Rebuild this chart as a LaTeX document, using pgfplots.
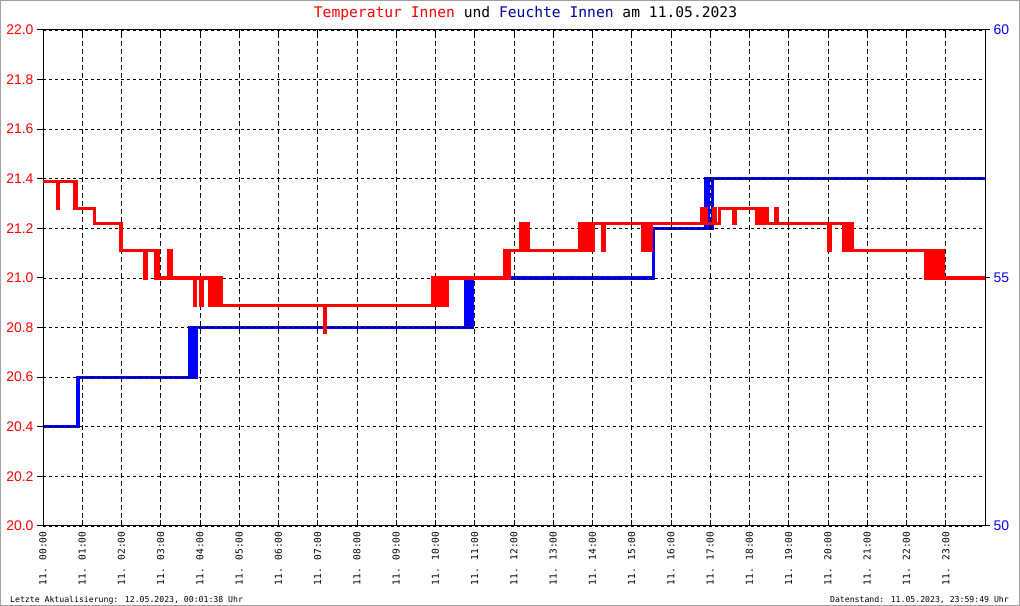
\documentclass[border=0pt]{standalone}
\usepackage{pgfplots}
\pgfplotsset{compat=1.18}
\usepackage{fontspec}
\setmainfont{DejaVu Sans Mono}
\newfontfamily\ticksans{Liberation Sans}
\definecolor{navyt}{RGB}{0,0,150}
\definecolor{framec}{RGB}{160,160,160}

\begin{document}
\begin{tikzpicture}[x=1bp,y=1bp]
\useasboundingbox (0,0) rectangle (1020,606);
\draw[framec, line width=1bp] (0.5,0.5) rectangle (1019.5,605.5);

% Humidity axis (right)
\begin{axis}[
  at={(43bp,80bp)}, anchor=south west, scale only axis,
  width=942bp, height=496bp,
  xmin=0, xmax=24, ymin=50, ymax=60,
  hide x axis,
  axis line style={draw=none},
  ytick={50,55,60},
  ytick pos=right, yticklabel pos=right,
  tick align=outside, major tick length=5bp,
  tick style={black, line width=1bp},
  yticklabel style={font=\ticksans\fontsize{14}{14}\selectfont, text=blue},
  /pgf/number format/assume math mode=true,
  clip=true,
]
\addplot[blue, line width=3.2bp, const plot, no markers] coordinates {
(0,52) (0.89,53) (3.74,54) (3.77,53) (3.80,54) (3.83,53) (3.86,54) (3.89,53) (3.92,54)
(10.77,55) (10.80,54) (10.83,55) (10.86,54) (10.89,55) (10.92,54) (10.95,55)
(15.56,56) (16.88,57) (16.95,56) (17.06,57) (24,57)
};
\end{axis}

% Temperature axis (left)
\begin{axis}[
  at={(43bp,80bp)}, anchor=south west, scale only axis,
  width=942bp, height=496bp,
  xmin=0, xmax=24, ymin=20, ymax=22,
  ytick={20,20.2,20.4,20.6,20.8,21,21.2,21.4,21.6,21.8,22},
  xtick={0,1,2,3,4,5,6,7,8,9,10,11,12,13,14,15,16,17,18,19,20,21,22,23},
  xticklabels={11. 00:00,11. 01:00,11. 02:00,11. 03:00,11. 04:00,11. 05:00,11. 06:00,11. 07:00,11. 08:00,11. 09:00,11. 10:00,11. 11:00,11. 12:00,11. 13:00,11. 14:00,11. 15:00,11. 16:00,11. 17:00,11. 18:00,11. 19:00,11. 20:00,11. 21:00,11. 22:00,11. 23:00},
  ytick pos=left,
  xtick pos=both,
  xtick align=inside,
  ytick align=outside,
  major tick length=6bp,
  tick style={black, line width=1bp},
  axis line style={black, line width=1bp},
  xmajorgrids, ymajorgrids,
  x grid style={black, line width=0.9bp, dash pattern=on 5bp off 3bp},
  y grid style={black, line width=0.9bp, dash pattern=on 3bp off 3bp},
  yticklabel={\pgfmathprintnumber[fixed,fixed zerofill,precision=1]{\tick}},
  yticklabel style={font=\ticksans\fontsize{14}{14}\selectfont, text=red},
  xticklabel style={rotate=90, anchor=east, font=\fontsize{9.6}{10}\selectfont, xshift=-2bp},
  /pgf/number format/assume math mode=true,
]
\addplot[red, line width=3.3bp, const plot, no markers] coordinates {
(0,21.39) (0.37,21.28) (0.40,21.39) (0.80,21.28) (0.83,21.39) (0.86,21.28)
(1.31,21.22) (1.99,21.11)
(2.59,21.00) (2.63,21.11) (2.87,21.00) (2.90,21.11) (2.93,21.00) (3.20,21.11) (3.26,21.00)
(3.86,20.89) (3.89,21.00) (4.01,20.89) (4.05,21.00) (4.24,20.89) (4.28,21.00) (4.31,20.89)
(4.36,21.00) (4.40,20.89) (4.44,21.00) (4.48,20.89) (4.51,21.00) (4.54,20.89)
(7.17,20.78) (7.20,20.89)
(9.93,21.00) (9.96,20.89) (10.00,21.00) (10.03,20.89) (10.07,21.00) (10.12,20.89)
(10.16,21.00) (10.19,20.89) (10.22,21.00) (10.26,20.89) (10.30,21.00)
(11.76,21.11) (11.79,21.00) (11.82,21.11) (11.85,21.00) (11.88,21.11)
(12.17,21.22) (12.20,21.11) (12.23,21.22) (12.28,21.11) (12.32,21.22) (12.36,21.11)
(13.67,21.22) (13.70,21.11) (13.73,21.22) (13.77,21.11) (13.80,21.22) (13.83,21.11)
(13.86,21.22) (13.90,21.11) (13.93,21.22) (14.00,21.11) (14.03,21.22) (14.26,21.11) (14.29,21.22)
(15.28,21.11) (15.31,21.22) (15.34,21.11) (15.38,21.22) (15.41,21.11) (15.45,21.22) (15.48,21.11) (15.51,21.22)
(16.78,21.28) (16.82,21.22) (16.85,21.28) (16.90,21.22) (17.08,21.28) (17.12,21.22)
(17.23,21.28) (17.60,21.22) (17.63,21.28)
(18.18,21.22) (18.22,21.28) (18.27,21.22) (18.31,21.28) (18.35,21.22) (18.42,21.28) (18.45,21.22)
(18.67,21.28) (18.71,21.22)
(20.02,21.11) (20.05,21.22) (20.40,21.11) (20.43,21.22) (20.47,21.11) (20.51,21.22)
(20.55,21.11) (20.59,21.22) (20.63,21.11)
(22.49,21.00) (22.52,21.11) (22.56,21.00) (22.60,21.11) (22.63,21.00) (22.67,21.11)
(22.71,21.00) (22.75,21.11) (22.79,21.00) (22.83,21.11) (22.87,21.00) (22.91,21.11) (22.95,21.00)
(24,21.00)
};
\end{axis}

\node[anchor=base, inner sep=0pt, font=\fontsize{14.7}{15}\selectfont] at (525.5,588)
  {\textcolor{red}{Temperatur Innen} und \textcolor{navyt}{Feuchte Innen} am 11.05.2023};
\node[anchor=base west, inner sep=0pt, font=\fontsize{8.2}{9}\selectfont] at (10,3.5)
  {Letzte Aktualisierung: 12.05.2023, 00:01:38 Uhr};
\node[anchor=base east, inner sep=0pt, font=\fontsize{8.2}{9}\selectfont] at (1009,3.5)
  {Datenstand: 11.05.2023, 23:59:49 Uhr};
\end{tikzpicture}
\end{document}
